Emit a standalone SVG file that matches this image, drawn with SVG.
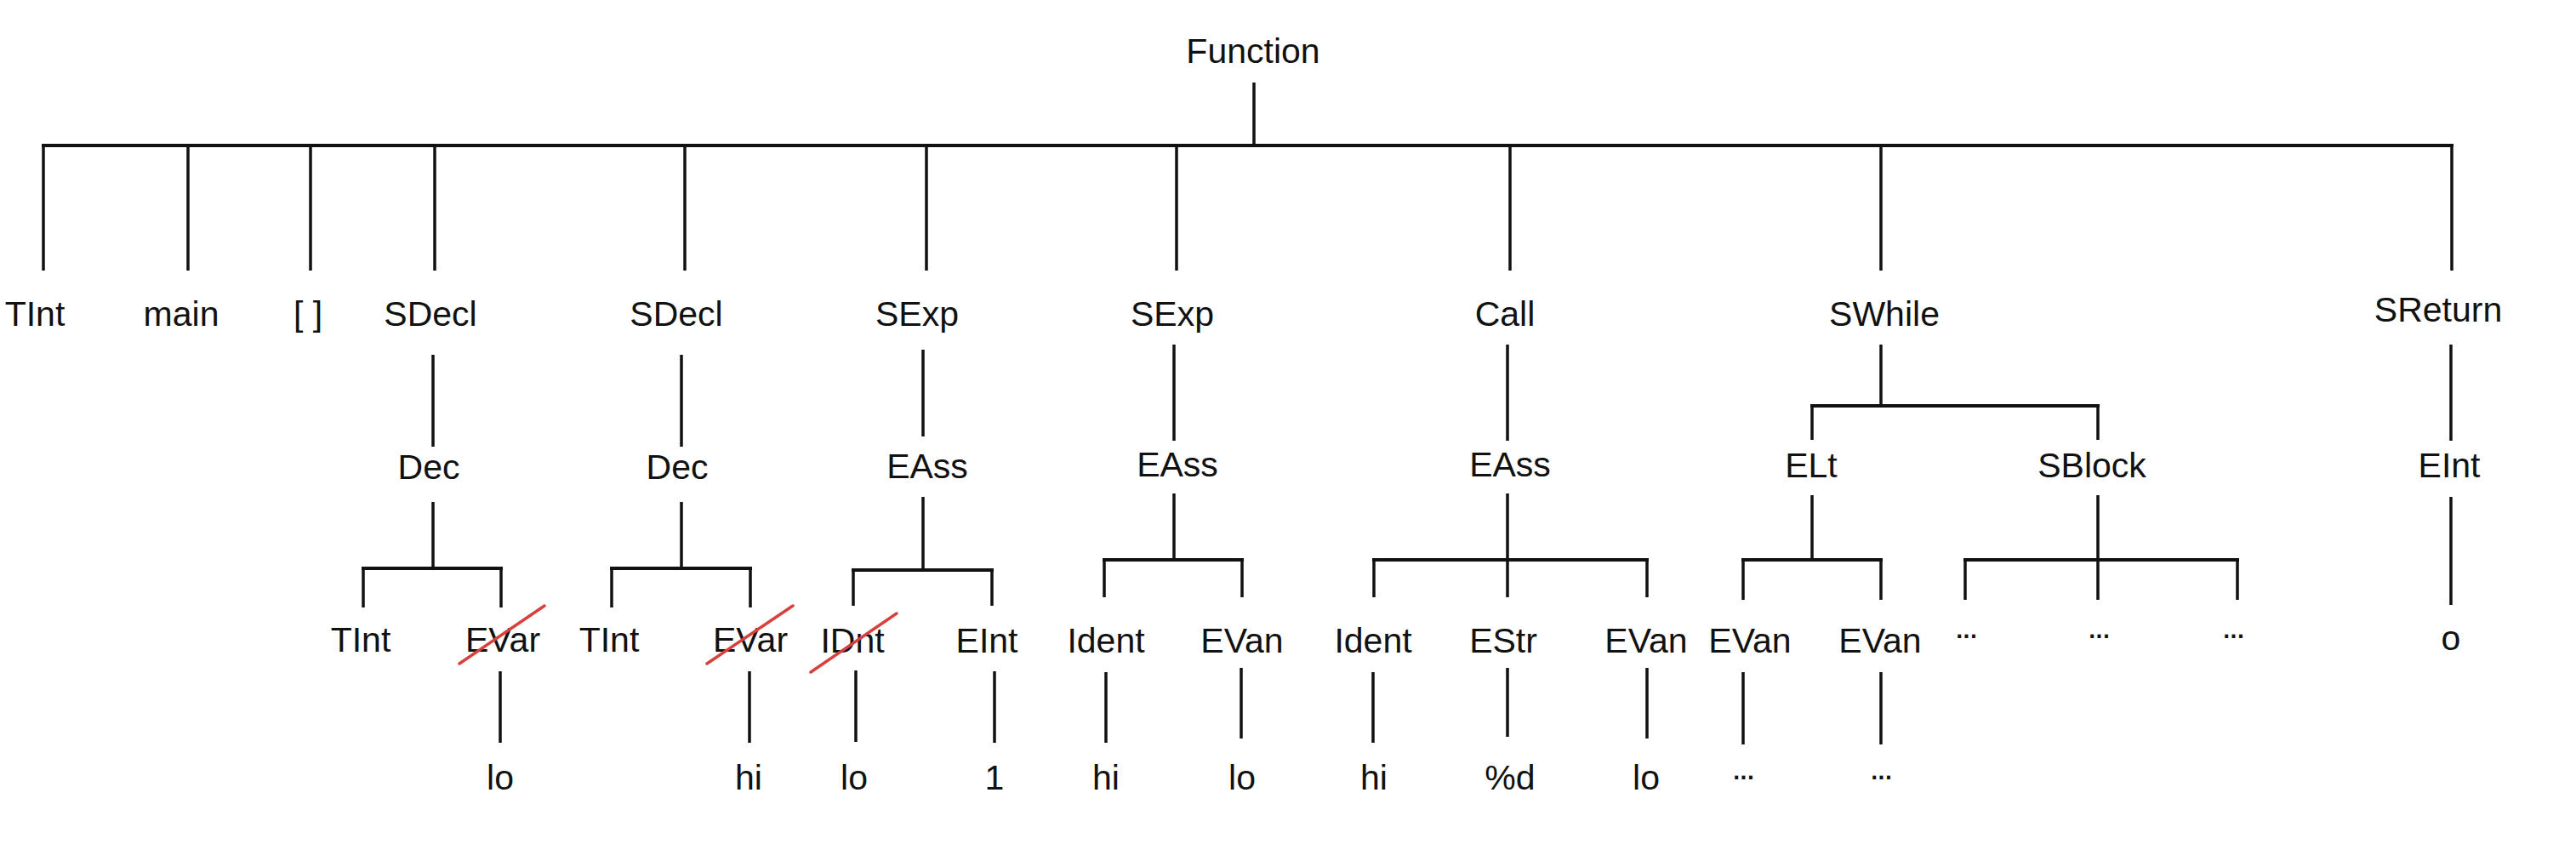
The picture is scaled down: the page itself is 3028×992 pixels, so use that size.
<svg xmlns="http://www.w3.org/2000/svg" width="3028" height="992" viewBox="0 0 3028 992">
<style>
text{font-family:"Liberation Sans",Arial,sans-serif;font-size:41px;fill:#111;text-anchor:middle}
.c line{stroke:#111;stroke-width:3.5;stroke-linecap:butt}
.c .b{stroke-width:4}
.x{stroke:#d8403d;stroke-width:3.5;stroke-linecap:round}
.d{letter-spacing:-3px}
</style>
<rect width="3028" height="992" fill="#fff"/>
<g id="connectors" class="c">
<line x1="1474" y1="97" x2="1474" y2="171"/>
<line class="b" x1="49" y1="171" x2="2884" y2="171"/>
<line x1="51" y1="171" x2="51" y2="318"/>
<line x1="221" y1="171" x2="221" y2="318"/>
<line x1="365" y1="171" x2="365" y2="318"/>
<line x1="511" y1="171" x2="511" y2="318"/>
<line x1="805" y1="171" x2="805" y2="318"/>
<line x1="1089" y1="171" x2="1089" y2="318"/>
<line x1="1383" y1="171" x2="1383" y2="318"/>
<line x1="1775" y1="171" x2="1775" y2="318"/>
<line x1="2211" y1="171" x2="2211" y2="318"/>
<line x1="2882" y1="171" x2="2882" y2="318"/>
<line x1="509" y1="417" x2="509" y2="525"/>
<line x1="801" y1="417" x2="801" y2="525"/>
<line x1="1085" y1="411" x2="1085" y2="513"/>
<line x1="1380" y1="405" x2="1380" y2="518"/>
<line x1="1772" y1="405" x2="1772" y2="518"/>
<line x1="2211" y1="405" x2="2211" y2="477"/>
<line class="b" x1="2128" y1="477" x2="2468" y2="477"/>
<line x1="2130" y1="477" x2="2130" y2="517"/>
<line x1="2466" y1="477" x2="2466" y2="517"/>
<line x1="2881" y1="405" x2="2881" y2="518"/>
<line x1="509" y1="590" x2="509" y2="668"/>
<line class="b" x1="425" y1="668" x2="591" y2="668"/>
<line x1="427" y1="668" x2="427" y2="714"/>
<line x1="589" y1="668" x2="589" y2="714"/>
<line x1="801" y1="590" x2="801" y2="668"/>
<line class="b" x1="717" y1="668" x2="884" y2="668"/>
<line x1="719" y1="668" x2="719" y2="714"/>
<line x1="882" y1="668" x2="882" y2="714"/>
<line x1="1085" y1="584" x2="1085" y2="670"/>
<line class="b" x1="1001" y1="670" x2="1168" y2="670"/>
<line x1="1003" y1="670" x2="1003" y2="712"/>
<line x1="1166" y1="670" x2="1166" y2="712"/>
<line x1="1380" y1="580" x2="1380" y2="658"/>
<line class="b" x1="1296" y1="658" x2="1462" y2="658"/>
<line x1="1298" y1="658" x2="1298" y2="702"/>
<line x1="1460" y1="658" x2="1460" y2="702"/>
<line x1="1772" y1="580" x2="1772" y2="702"/>
<line class="b" x1="1613" y1="658" x2="1938" y2="658"/>
<line x1="1615" y1="658" x2="1615" y2="702"/>
<line x1="1936" y1="658" x2="1936" y2="702"/>
<line x1="2130" y1="582" x2="2130" y2="658"/>
<line class="b" x1="2047" y1="658" x2="2213" y2="658"/>
<line x1="2049" y1="658" x2="2049" y2="705"/>
<line x1="2211" y1="658" x2="2211" y2="705"/>
<line x1="2466" y1="582" x2="2466" y2="705"/>
<line class="b" x1="2308" y1="658" x2="2632" y2="658"/>
<line x1="2310" y1="658" x2="2310" y2="705"/>
<line x1="2630" y1="658" x2="2630" y2="705"/>
<line x1="2881" y1="584" x2="2881" y2="711"/>
<line x1="588" y1="789" x2="588" y2="873"/>
<line x1="881" y1="789" x2="881" y2="873"/>
<line x1="1006" y1="788" x2="1006" y2="872"/>
<line x1="1169" y1="789" x2="1169" y2="873"/>
<line x1="1300" y1="790" x2="1300" y2="873"/>
<line x1="1459" y1="785" x2="1459" y2="868"/>
<line x1="1614" y1="790" x2="1614" y2="873"/>
<line x1="1772" y1="785" x2="1772" y2="866"/>
<line x1="1936" y1="785" x2="1936" y2="868"/>
<line x1="2049" y1="790" x2="2049" y2="875"/>
<line x1="2211" y1="790" x2="2211" y2="875"/>
</g>
<g id="n-function"><text x="1473" y="74">Function</text></g>
<g id="n-tint"><text x="41" y="383">TInt</text></g>
<g id="n-main"><text x="213" y="383">main</text></g>
<g id="n-params"><text x="362" y="383">[ ]</text></g>
<g id="n-sdecl1"><text x="506" y="383">SDecl</text></g>
<g id="n-sdecl2"><text x="795" y="383">SDecl</text></g>
<g id="n-sexp1"><text x="1078" y="383">SExp</text></g>
<g id="n-sexp2"><text x="1378" y="383">SExp</text></g>
<g id="n-call"><text x="1769" y="383">Call</text></g>
<g id="n-swhile"><text x="2215" y="383">SWhile</text></g>
<g id="n-sreturn"><text x="2866" y="378">SReturn</text></g>
<g id="n-dec1"><text x="504" y="563">Dec</text></g>
<g id="n-dec2"><text x="796" y="563">Dec</text></g>
<g id="n-eass1"><text x="1090" y="562">EAss</text></g>
<g id="n-eass2"><text x="1384" y="560">EAss</text></g>
<g id="n-eass3"><text x="1775" y="560">EAss</text></g>
<g id="n-elt"><text x="2129" y="561">ELt</text></g>
<g id="n-sblock"><text x="2459" y="561">SBlock</text></g>
<g id="n-eint-ret"><text x="2879" y="561">EInt</text></g>
<g id="n-tint1"><text x="424" y="766">TInt</text></g>
<g id="n-evar1"><text x="591" y="766">EVar</text><line class="x" x1="540" y1="780" x2="640" y2="712"/></g>
<g id="n-tint2"><text x="716" y="766">TInt</text></g>
<g id="n-evar2"><text x="882" y="766">EVar</text><line class="x" x1="831" y1="780" x2="932" y2="712"/></g>
<g id="n-idnt"><text x="1002" y="767">IDnt</text><line class="x" x1="953" y1="790" x2="1054" y2="721"/></g>
<g id="n-eint1"><text x="1160" y="767">EInt</text></g>
<g id="n-ident1"><text x="1300" y="767">Ident</text></g>
<g id="n-evan1"><text x="1460" y="767">EVan</text></g>
<g id="n-ident2"><text x="1614" y="767">Ident</text></g>
<g id="n-estr"><text x="1767" y="767">EStr</text></g>
<g id="n-evan2"><text x="1935" y="767">EVan</text></g>
<g id="n-evan3"><text x="2057" y="767">EVan</text></g>
<g id="n-evan4"><text x="2210" y="767">EVan</text></g>
<g id="n-dots1"><text class="d" x="2310" y="750">...</text></g>
<g id="n-dots2"><text class="d" x="2466" y="750">...</text></g>
<g id="n-dots3"><text class="d" x="2624" y="750">...</text></g>
<g id="n-zero"><text x="2881" y="764">o</text></g>
<g id="n-lo1"><text x="588" y="928">lo</text></g>
<g id="n-hi1"><text x="880" y="928">hi</text></g>
<g id="n-lo2"><text x="1004" y="928">lo</text></g>
<g id="n-one"><text x="1169" y="928">1</text></g>
<g id="n-hi2"><text x="1300" y="928">hi</text></g>
<g id="n-lo3"><text x="1460" y="928">lo</text></g>
<g id="n-hi3"><text x="1615" y="928">hi</text></g>
<g id="n-pctd"><text x="1775" y="928">%d</text></g>
<g id="n-lo4"><text x="1935" y="928">lo</text></g>
<g id="n-dots4"><text class="d" x="2048" y="916">...</text></g>
<g id="n-dots5"><text class="d" x="2210" y="916">...</text></g>
</svg>
